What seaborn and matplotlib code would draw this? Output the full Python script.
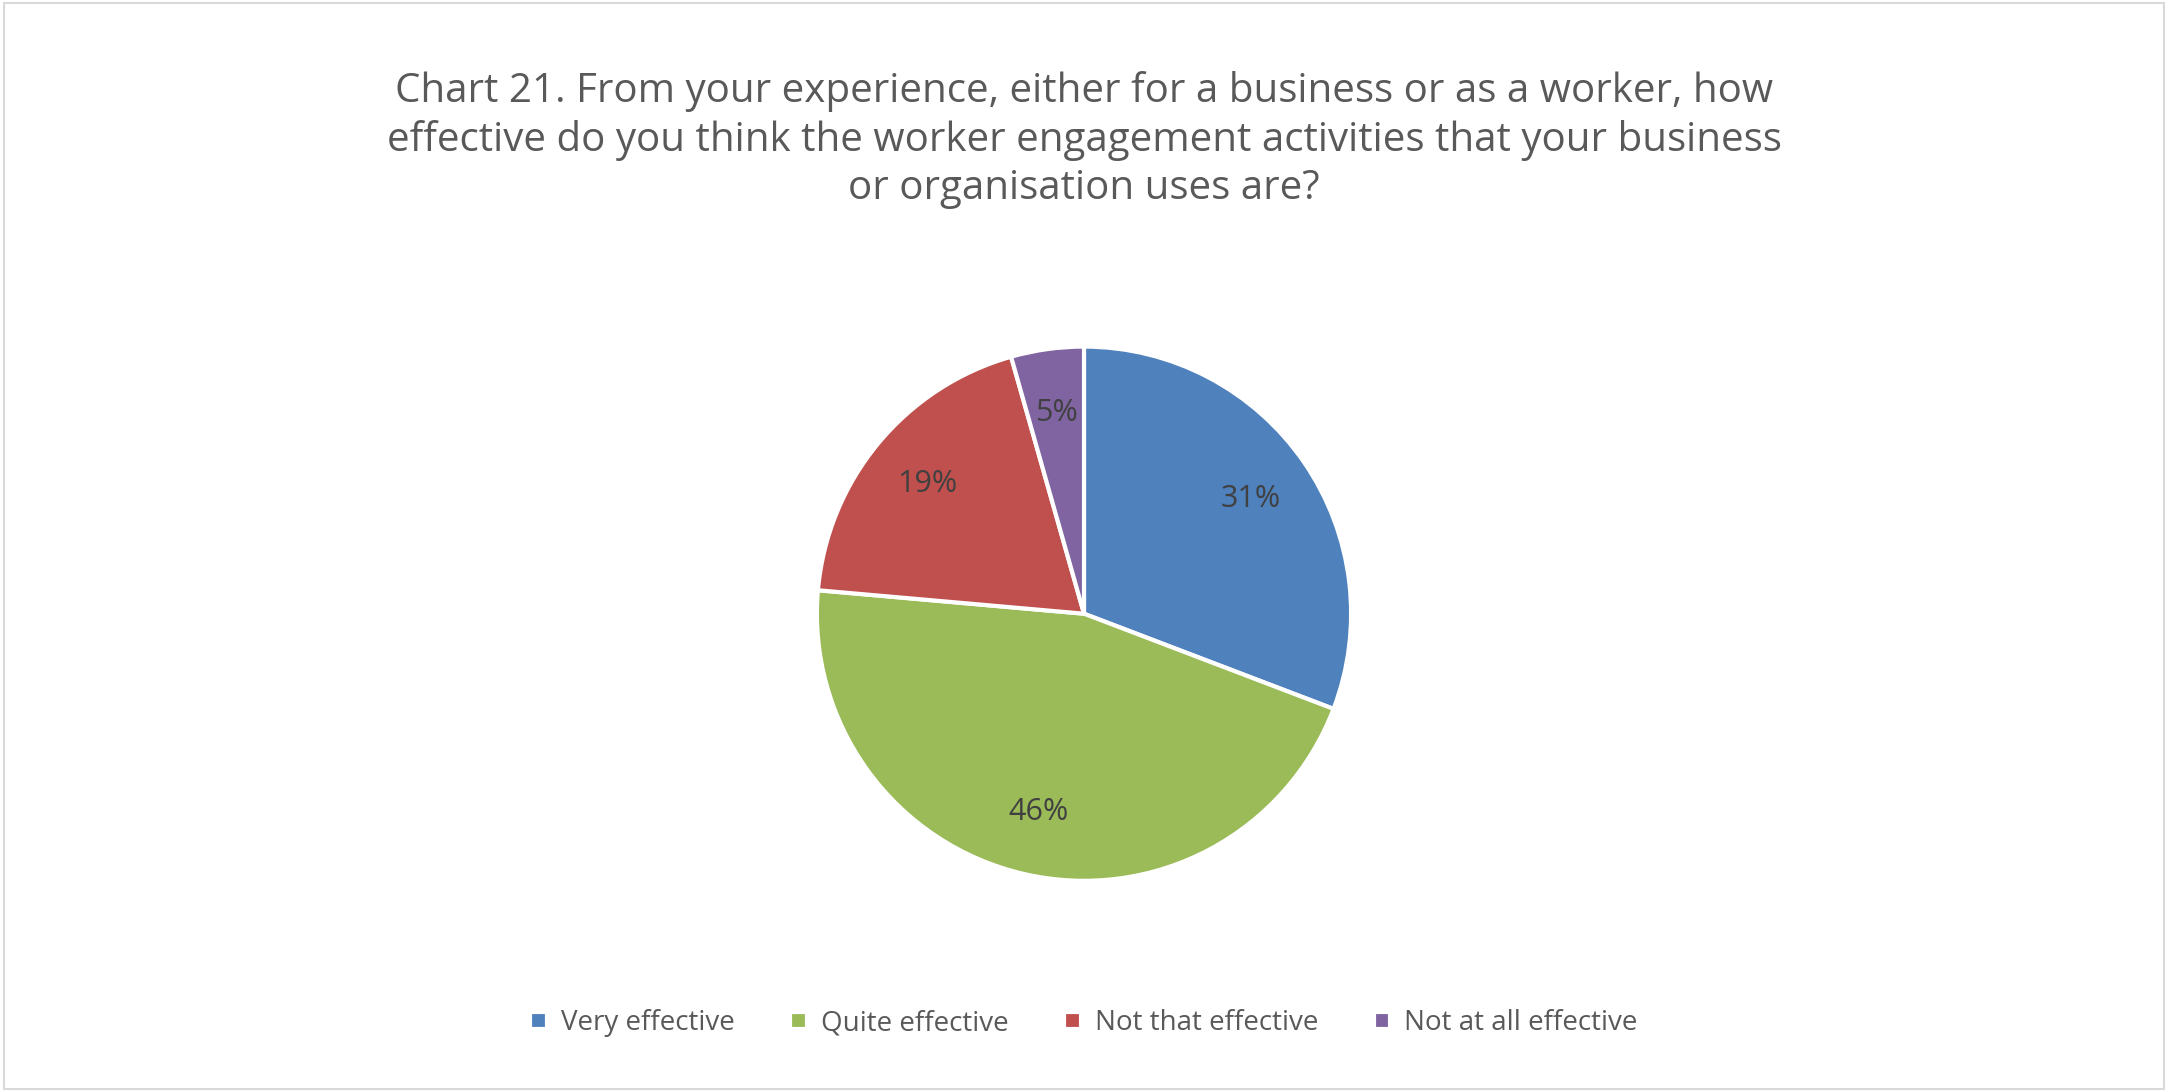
import matplotlib
matplotlib.use("Agg")
import matplotlib.pyplot as plt
import seaborn as sns
from matplotlib.patches import Rectangle

categories = ["Very effective", "Quite effective", "Not that effective", "Not at all effective"]
values = [30.8, 45.6, 19.2, 4.4]
pct_labels = ["31%", "46%", "19%", "5%"]
colors = ["#4F81BD", "#9BBB59", "#C0504D", "#8064A2"]

sns.set_theme(style="white", font="Open Sans")
fig = plt.figure(figsize=(21.68, 10.92), dpi=100)
fig.patch.set_facecolor("white")
fig.patches.append(Rectangle((0.002, 0.003), 0.996, 0.994, transform=fig.transFigure,
                             fill=False, edgecolor="#D9D9D9", linewidth=1.5))

w = 0.499 * 1092 / 2168
ax = fig.add_axes([0.5 - w / 2, 0.438 - 0.2495, w, 0.499])
lab_iter = iter(pct_labels)
wedges, texts, autotexts = ax.pie(values, colors=colors, startangle=90, counterclock=False,
                                  autopct=lambda p: next(lab_iter), pctdistance=0.76,
                                  wedgeprops=dict(edgecolor="white", linewidth=3),
                                  textprops=dict(fontsize=22, color="#404040"))
ax.set_xlim(-1.02, 1.02); ax.set_ylim(-1.02, 1.02)
ax.set_aspect("equal")

fig.text(0.5, 0.935, "Chart 21. From your experience, either for a business or as a worker, how\n"
         "effective do you think the worker engagement activities that your business\n"
         "or organisation uses are?", ha="center", va="top", fontsize=29, color="#595959",
         linespacing=1.25)

fig.legend(wedges, categories, loc="center", bbox_to_anchor=(0.5, 0.063), ncol=4,
           frameon=False, fontsize=20, handlelength=0.6, handleheight=0.6,
           columnspacing=2.0, handletextpad=0.5, labelcolor="#595959")

fig.savefig("out.png", dpi=100)
